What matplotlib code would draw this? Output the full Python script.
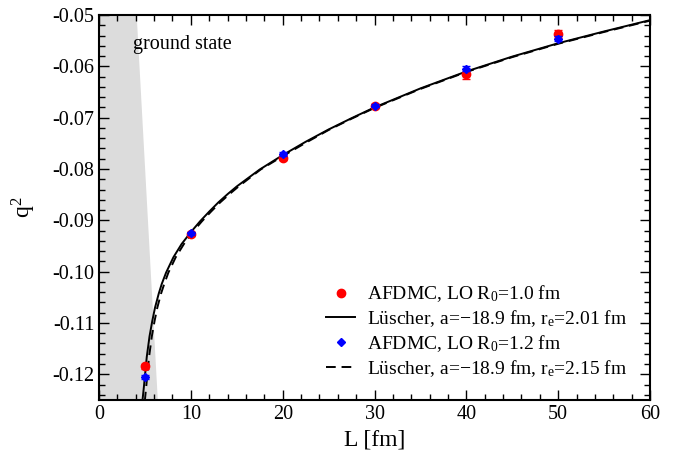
import matplotlib
matplotlib.use('Agg')
import matplotlib.pyplot as plt
from matplotlib.lines import Line2D
from matplotlib.ticker import MultipleLocator, FormatStrFormatter

plt.rcParams['font.family'] = ['Liberation Serif', 'DejaVu Serif']
plt.rcParams['mathtext.fontset'] = 'stix'
plt.rcParams['mathtext.default'] = 'regular'
plt.rcParams['axes.unicode_minus'] = False

# AFDMC results
L_pts = [5, 10, 20, 30, 40, 50]
q2_r10 = [-0.1184, -0.0927, -0.0778, -0.0678, -0.0615, -0.0537]
err_r10 = [0.0005, 0.0004, 0.0005, 0.0004, 0.0009, 0.0008]
q2_r12 = [-0.1205, -0.0925, -0.0771, -0.0677, -0.0605, -0.0546]
err_r12 = [0.0004, 0.0003, 0.0004, 0.0003, 0.0005, 0.0005]

# Luscher curves
L_solid = [4.72, 4.9, 5.0, 5.2, 5.5, 5.8, 6.1, 6.5, 6.83, 7.3, 8.1, 9.0, 10, 11,
           12, 13, 14, 15, 17.5, 20, 22.5, 25, 27.5, 30, 35, 40, 45, 50, 55, 60]
q2_solid = [-0.1253, -0.1222, -0.1203, -0.1166, -0.1126, -0.1096, -0.1070, -0.1043,
            -0.1024, -0.1002, -0.0972, -0.0946, -0.0923, -0.0902, -0.0883, -0.0865,
            -0.0849, -0.0834, -0.0801, -0.0773, -0.0747, -0.0723, -0.0701, -0.0680,
            -0.0643, -0.0610, -0.0581, -0.0555, -0.0532, -0.0510]
L_dash = [4.98, 5.15, 5.25, 5.45, 5.75, 6.05, 6.35, 6.75, 7.1, 7.55, 8.35, 9.25, 10.2, 11.2,
          12.2, 13.2, 14.2, 15.2, 17.6, 20, 22.5, 25, 27.5, 30, 35, 40, 45, 50, 55, 60]
q2_dash = [-0.1253, -0.1222, -0.1203, -0.1166, -0.1126, -0.1096, -0.1070, -0.1043,
           -0.1024, -0.1002, -0.0972, -0.0946, -0.0923, -0.0902, -0.0883, -0.0865,
           -0.0849, -0.0834, -0.0801, -0.0775, -0.0749, -0.0724, -0.0702, -0.0681,
           -0.0644, -0.0611, -0.0582, -0.0556, -0.0533, -0.0511]

# excluded ground state region
gs_L = [0, 4.1, 6.4, 0]
gs_q2 = [-0.05, -0.05, -0.125, -0.125]

fig = plt.figure(figsize=(6.75, 4.55), dpi=100)
ax = fig.add_axes([0.1467, 0.121, 0.8163, 0.846])

ax.fill(gs_L, gs_q2, color='#dcdcdc', lw=0, zorder=0)
ax.text(3.7, -0.0557, 'ground state', fontsize=14.5, ha='left', va='center')

ax.errorbar(L_pts, q2_r10, yerr=err_r10, fmt='o', color='red', ms=6, capsize=3,
            elinewidth=1, capthick=1, zorder=3)
ax.plot(L_solid, q2_solid, 'k-', lw=1.4, zorder=2)
ax.errorbar(L_pts, q2_r12, yerr=err_r12, fmt='D', color='blue', ms=4.5, capsize=3,
            elinewidth=1, capthick=1, zorder=4)
ax.plot(L_dash, q2_dash, 'k--', lw=1.4, dashes=(5, 3), zorder=2)

handles = [
    Line2D([], [], ls='none', marker='o', color='red', ms=6),
    Line2D([], [], color='k', lw=1.4),
    Line2D([], [], ls='none', marker='D', color='blue', ms=4.5),
    Line2D([], [], color='k', lw=1.4, ls='--', dashes=(5, 3)),
]
labels = ['AFDMC, LO R$_0$=1.0 fm',
          'Lüscher, a=\u221218.9 fm, r$_e$=2.01 fm',
          'AFDMC, LO R$_0$=1.2 fm',
          'Lüscher, a=\u221218.9 fm, r$_e$=2.15 fm']
ax.legend(handles, labels, loc='lower right', bbox_to_anchor=(0.99, 0.01), frameon=False,
          fontsize=14, handlelength=1.5, handletextpad=0.6, labelspacing=0.2)

ax.set_xlim(0, 60)
ax.set_ylim(-0.125, -0.05)
ax.xaxis.set_major_locator(MultipleLocator(10))
ax.xaxis.set_minor_locator(MultipleLocator(2))
ax.yaxis.set_major_locator(MultipleLocator(0.01))
ax.yaxis.set_minor_locator(MultipleLocator(0.002))
ax.yaxis.set_major_formatter(FormatStrFormatter('%.2f'))
ax.tick_params(which='both', direction='in', top=True, right=True, labelsize=14.5)
ax.tick_params(which='major', length=7.5, width=1)
ax.tick_params(which='minor', length=4, width=1)
for s in ax.spines.values():
    s.set_linewidth(1.5)

ax.set_xlabel('L [fm]', fontsize=17)
ax.set_ylabel('q$^2$', fontsize=17, labelpad=10)

fig.savefig('out.png', dpi=100)
